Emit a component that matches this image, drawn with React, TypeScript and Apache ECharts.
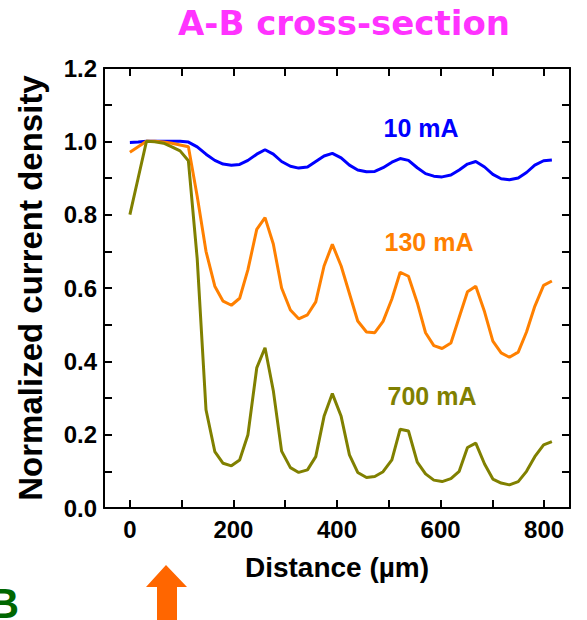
import React, { useEffect, useRef } from "react";
import * as echarts from "echarts";

const distance = [0, 16, 32, 48, 65, 81, 97, 113, 130, 147, 164, 180, 196, 212, 228, 245, 261, 277, 293, 310, 326, 343, 359, 375, 391, 408, 424, 440, 457, 473, 489, 506, 522, 538, 555, 571, 587, 603, 620, 636, 652, 668, 685, 701, 717, 733, 750, 766, 782, 799, 815];

const current10mA = [0.997, 0.998, 1.0, 1.0, 1.0, 1.0, 1.0, 0.998, 0.985, 0.965, 0.948, 0.938, 0.935, 0.937, 0.948, 0.965, 0.977, 0.965, 0.945, 0.932, 0.927, 0.93, 0.945, 0.96, 0.967, 0.955, 0.935, 0.922, 0.917, 0.918, 0.928, 0.943, 0.953, 0.948, 0.928, 0.912, 0.905, 0.903, 0.908, 0.922, 0.938, 0.945, 0.93, 0.91, 0.898, 0.895, 0.9, 0.915, 0.935, 0.947, 0.949];

const current130mA = [0.97, 0.985, 1.0, 1.0, 0.998, 0.995, 0.99, 0.985, 0.85, 0.7, 0.605, 0.564, 0.553, 0.572, 0.65, 0.76, 0.792, 0.72, 0.6, 0.54, 0.516, 0.527, 0.562, 0.66, 0.719, 0.66, 0.585, 0.51, 0.48, 0.478, 0.509, 0.57, 0.643, 0.632, 0.56, 0.478, 0.443, 0.435, 0.45, 0.52, 0.59, 0.605, 0.535, 0.455, 0.423, 0.411, 0.425, 0.48, 0.55, 0.607, 0.619];

const current700mA = [0.8, 0.9, 1.0, 0.999, 0.995, 0.985, 0.974, 0.947, 0.68, 0.268, 0.154, 0.122, 0.115, 0.131, 0.2, 0.382, 0.437, 0.32, 0.155, 0.11, 0.097, 0.104, 0.14, 0.25, 0.312, 0.25, 0.145, 0.097, 0.083, 0.086, 0.099, 0.131, 0.215, 0.21, 0.125, 0.093, 0.076, 0.072, 0.08, 0.1, 0.165, 0.177, 0.12, 0.079, 0.068, 0.063, 0.072, 0.1, 0.14, 0.172, 0.181];

const xTicks = [0, 100, 200, 300, 400, 500, 600, 700, 800];
const xLabels = [0, 200, 400, 600, 800];

const seriesNames = ["10 mA", "130 mA", "700 mA"];
const seriesColors = ["#0000ff", "#ff8000", "#808000"];

export default function App() {
  const ref = useRef<HTMLDivElement>(null);
  useEffect(() => {
    document.body.style.margin = "0";
    const chart = echarts.init(ref.current!, undefined, { renderer: "svg" });
    const all = [current10mA, current130mA, current700mA];
    const tickFont = { fontFamily: "Liberation Sans, Arial", fontWeight: "bold", fontSize: 24, color: "#000" };
    const axisLine = { show: true, onZero: false, lineStyle: { color: "#000", width: 2 } };
    const tickStyle = { color: "#000", width: 2 };
    chart.setOption({
      animation: false,
      title: {
        text: "A-B cross-section",
        left: 339,
        top: 1,
        textAlign: "center",
        textStyle: { fontFamily: "DejaVu Sans", fontWeight: "bold", fontSize: 34, color: "#ff33ff" },
      },
      grid: { left: 104, right: 17, top: 68, bottom: 112, containLabel: false, outerBoundsMode: "none" },
      xAxis: [
        {
          type: "value",
          min: -50,
          max: 850,
          position: "bottom",
          axisLine,
          axisTick: { show: true, inside: true, length: 8, customValues: xTicks, lineStyle: tickStyle },
          axisLabel: { show: true, customValues: xLabels, margin: 9, ...tickFont },
          splitLine: { show: false },
          name: "Distance (\u00b5m)",
          nameLocation: "middle",
          nameGap: 45,
          nameTextStyle: { fontFamily: "Liberation Sans, Arial", fontWeight: "bold", fontSize: 28, color: "#000" },
        },
        {
          type: "value",
          min: -50,
          max: 850,
          position: "top",
          axisLine,
          axisTick: { show: true, inside: true, length: 8, customValues: xTicks, lineStyle: tickStyle },
          axisLabel: { show: false },
          splitLine: { show: false },
        },
      ],
      yAxis: [
        {
          type: "value",
          min: 0,
          max: 1.2,
          interval: 0.2,
          position: "left",
          axisLine,
          axisTick: { show: true, inside: true, length: 8, lineStyle: tickStyle },
          minorTick: { show: true, splitNumber: 2, length: 8, lineStyle: tickStyle },
          axisLabel: { margin: 7, formatter: (v: number) => v.toFixed(1), ...tickFont },
          splitLine: { show: false },
          name: "Normalized current density",
          nameLocation: "middle",
          nameGap: 57,
          nameTextStyle: { fontFamily: "Liberation Sans, Arial", fontWeight: "bold", fontSize: 33, color: "#000" },
        },
        {
          type: "value",
          min: 0,
          max: 1.2,
          interval: 0.2,
          position: "right",
          axisLine,
          axisTick: { show: true, inside: true, length: 8, lineStyle: tickStyle },
          minorTick: { show: true, splitNumber: 2, length: 8, lineStyle: tickStyle },
          axisLabel: { show: false },
          splitLine: { show: false },
        },
      ],
      series: all.map((ys, i) => ({
        name: seriesNames[i],
        type: "line",
        xAxisIndex: 0,
        yAxisIndex: 0,
        showSymbol: false,
        symbol: "none",
        lineStyle: { color: seriesColors[i], width: 3 },
        data: distance.map((d, j) => [d, ys[j]]),
      })),
      graphic: [
        { type: "text", x: 421, y: 128, style: { text: "10 mA", fill: "#0000ff", font: "bold 25px 'Liberation Sans', Arial", align: "center", verticalAlign: "middle" } },
        { type: "text", x: 429, y: 242, style: { text: "130 mA", fill: "#ff8000", font: "bold 25px 'Liberation Sans', Arial", align: "center", verticalAlign: "middle" } },
        { type: "text", x: 432, y: 396, style: { text: "700 mA", fill: "#808000", font: "bold 25px 'Liberation Sans', Arial", align: "center", verticalAlign: "middle" } },
        {
          type: "polygon",
          shape: { points: [[166, 565], [187, 587], [177, 587], [177, 620], [157, 620], [157, 587], [146, 587]] },
          style: { fill: "#ff6600" },
        },
        { type: "text", x: 19, y: 603, style: { text: "B", fill: "#006600", font: "bold 42px 'Liberation Sans', Arial", align: "right", verticalAlign: "middle" } },
      ],
    });
    return () => chart.dispose();
  }, []);
  return <div ref={ref} style={{ width: 587, height: 620 }} />;
}
